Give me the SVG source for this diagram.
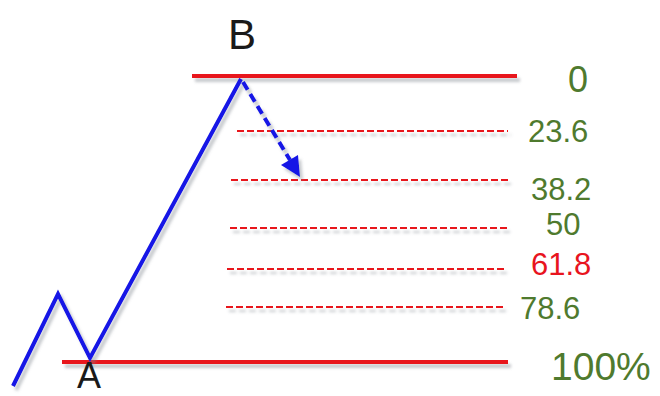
<svg xmlns="http://www.w3.org/2000/svg" width="660" height="396" viewBox="0 0 660 396">
<defs>
<filter id="sh" x="-10%" y="-50%" width="120%" height="300%">
<feDropShadow dx="3" dy="4" stdDeviation="1.5" flood-color="#808890" flood-opacity="0.45"/>
</filter>
<style>
.solid{stroke:#e8141e;stroke-width:4;fill:none}
.dash{stroke:#e8141e;stroke-width:2;stroke-dasharray:7 3;fill:none}
.blue{stroke:#1414e6;stroke-width:4;fill:none;stroke-linejoin:miter}
.lbl{font-family:"Liberation Sans",Arial,sans-serif;fill:#4f7a2e}
.pt{font-family:"Liberation Sans",Arial,sans-serif;fill:#1a1a1a;font-size:42px}
</style>
</defs>
<rect width="660" height="396" fill="#ffffff"/>
<g id="levels" filter="url(#sh)">
<line id="l0" class="solid" x1="192" y1="76" x2="517" y2="76"/>
<line id="l236" class="dash" x1="237" y1="131" x2="508" y2="131"/>
<line id="l382" class="dash" x1="231" y1="180" x2="508" y2="180"/>
<line id="l50" class="dash" x1="230" y1="228" x2="507" y2="228"/>
<line id="l618" class="dash" x1="227" y1="269" x2="505" y2="269"/>
<line id="l786" class="dash" x1="226" y1="307" x2="503" y2="307"/>
<line id="l100" class="solid" x1="62" y1="362" x2="508" y2="362"/>
</g>
<g id="connectors" filter="url(#sh)">
<polyline class="blue" points="13,386 58,294 90,358 241,79"/>
<line class="blue" x1="243" y1="82" x2="290" y2="160" stroke-dasharray="9 5"/>
<polygon points="300,177 281,165 298,155" fill="#1414e6"/>
</g>
<g id="labels">
<text id="B" class="pt" x="228" y="49">B</text>
<text id="A" class="pt" x="77" y="388" font-size="36" style="font-size:36px">A</text>
<text class="lbl" x="568" y="92" font-size="36">0</text>
<text class="lbl" x="528" y="142" font-size="31">23.6</text>
<text class="lbl" x="531" y="200" font-size="31">38.2</text>
<text class="lbl" x="546" y="235" font-size="31">50</text>
<text class="lbl" x="531" y="275" font-size="31" style="fill:#e8141e">61.8</text>
<text class="lbl" x="520" y="319" font-size="31">78.6</text>
<text class="lbl" x="551" y="380" font-size="39">100%</text>
</g>
</svg>
